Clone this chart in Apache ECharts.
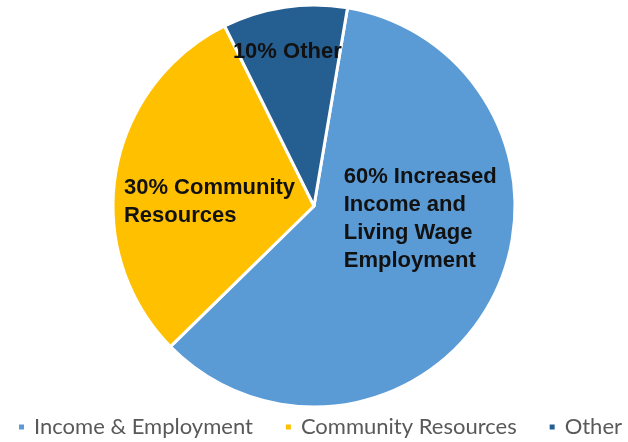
<!DOCTYPE html>
<html>
<head>
<meta charset="utf-8">
<script src="https://cdn.jsdelivr.net/npm/echarts@6/dist/echarts.min.js"></script>
<style>
  html, body { margin: 0; padding: 0; background: #ffffff; }
  #chart { width: 628px; height: 442px; }
</style>
</head>
<body>
<div id="chart"></div>
<script>
// Share of outcomes by category (percent)
const categories = ['Income & Employment', 'Community Resources', 'Other'];
const shares = [60, 30, 10];
const sliceCaptions = ['Increased\nIncome and\nLiving Wage\nEmployment', 'Community\nResources', 'Other'];

const sliceColors = ['#5b9bd5', '#ffc000', '#255e91'];
// Shift of each caption from its slice's default inside anchor
const captionOffsets = [[17, -35], [-2, 13], [-10, -52]];
// Width of each caption block, so its lines can be left-aligned inside it
const captionWidths = [158, 172, 112];

const chart = echarts.init(document.getElementById('chart'), null, { renderer: 'canvas' });

const captionFont = {
  fontFamily: "'Liberation Sans', Arial, sans-serif",
  fontWeight: 'bold',
  fontSize: 22,
  lineHeight: 28,
  color: '#111111',
  align: 'left'
};

const pieData = categories.map((name, i) => ({
  name: name,
  value: shares[i],
  itemStyle: { color: sliceColors[i] },
  label: {
    offset: captionOffsets[i],
    rich: { t: Object.assign({ width: captionWidths[i] }, captionFont) }
  }
}));

chart.setOption({
  animation: false,
  backgroundColor: '#ffffff',
  legend: {
    data: categories,
    left: 17,
    top: 416,
    width: 700,
    padding: 0,
    icon: 'rect',
    itemWidth: 7,
    itemHeight: 7,
    itemGap: 31,
    selectedMode: false,
    textStyle: {
      fontFamily: 'Lato',
      fontSize: 22,
      color: '#595959',
      padding: [0, 0, 0, 4]
    }
  },
  series: [{
    type: 'pie',
    center: [314, 206],
    radius: 201,
    startAngle: 80.4,
    clockwise: true,
    avoidLabelOverlap: false,
    silent: true,
    itemStyle: { borderColor: '#ffffff', borderWidth: 3 },
    label: Object.assign({
      show: true,
      position: 'inside',
      verticalAlign: 'middle',
      formatter: p => (p.value + '% ' + sliceCaptions[p.dataIndex])
        .split('\n').map(line => '{t|' + line + '}').join('\n')
    }, captionFont),
    labelLine: { show: false },
    data: pieData
  }]
});
</script>
</body>
</html>
